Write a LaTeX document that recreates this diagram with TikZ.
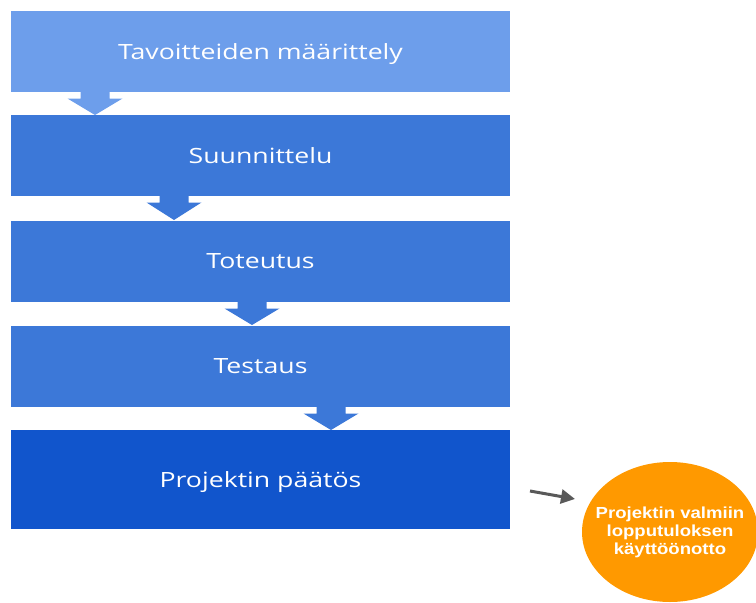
\documentclass[tikz,border=0pt]{standalone}
\usepackage{fontspec}
\setmainfont{Open Sans}
\newfontfamily\arialbold{Liberation Sans}
\usetikzlibrary{arrows.meta,shapes.geometric}
\definecolor{blueA}{HTML}{6D9EEB}
\definecolor{blueB}{HTML}{3C78D8}
\definecolor{blueC}{HTML}{1155CC}
\definecolor{orangeA}{HTML}{FF9900}
\definecolor{arrowgray}{HTML}{595959}
\newcommand{\wide}[1]{\scalebox{1.27}[1]{#1}}
\newcommand{\wideb}[1]{\scalebox{1.16}[1]{#1}}
\tikzset{
  stage/.style={fill=#1, draw=none, minimum width=499pt, minimum height=81pt,
    inner sep=0pt, text=white, text depth=0pt, font=\fontsize{21}{24}\selectfont},
  chev/.style={fill=#1, draw=none},
}
\begin{document}
\begin{tikzpicture}[x=1pt,y=-1pt]
\useasboundingbox (0,0) rectangle (756,603);
\node[stage=blueA] (b1) at (260.5,51.5) {\wide{Tavoitteiden määrittely}};
\node[stage=blueB] (b2) at (260.5,155.5) {\wide{Suunnittelu}};
\node[stage=blueB] (b3) at (260.5,261) {\wide{Toteutus}};
\node[stage=blueB] (b4) at (260.5,366) {\wide{Testaus}};
\node[stage=blueC, minimum height=99pt] (b5) at (260.5,479.5) {\wide{Projektin päätös}};
% chevron connectors
\foreach \cx/\ya/\yb/\c in {95/92/115/blueA, 174/196/220/blueB, 252/302/325/blueB, 331/407/430/blueB}{
  \fill[chev=\c] (\cx-14.5,\ya) -- (\cx+14.5,\ya) -- (\cx+14.5,\ya+6.5) -- (\cx+27.5,\ya+6.5)
    -- (\cx,\yb) -- (\cx-27.5,\ya+6.5) -- (\cx-14.5,\ya+6.5) -- cycle;
}
\node[ellipse, fill=orangeA, minimum width=176pt, minimum height=140pt, inner sep=0pt] (res) at (670,532) {};
\node[text=white, align=center, inner sep=0pt, font=\arialbold\bfseries\fontsize{16}{18}\selectfont] (restext) at (res.center)
  {\wideb{Projektin valmiin}\\\wideb{lopputuloksen}\\\wideb{käyttöönotto}};
\coordinate (at) at (530,491);
\coordinate (ah) at (575,499);
\draw[arrowgray, line width=3pt, -{Triangle[length=14pt,width=14pt]}] (at) -- (ah);
\end{tikzpicture}
\end{document}
